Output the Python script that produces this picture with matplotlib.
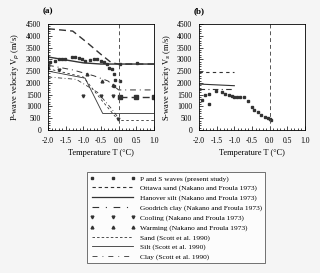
import matplotlib
matplotlib.use('Agg')
import matplotlib.pyplot as plt
from matplotlib.ticker import MultipleLocator
from matplotlib.lines import Line2D

plt.rcParams['font.family'] = ['Liberation Serif', 'DejaVu Serif']

# P-wave, present study
p_T = [-2.02, -2.0, -1.94, -1.8, -1.7, -1.61, -1.51, -1.32, -1.23, -1.13, -1.04, -0.94, -0.8,
       -0.71, -0.61, -0.51, -0.42, -0.32, -0.28, -0.18, -0.13, -0.09, -0.13, 0.04, 0.04, 0.53]
p_V = [3115, 2650, 2900, 2930, 3000, 3030, 3000, 3115, 3100, 3070, 3030, 2930, 2960,
       3000, 3000, 2940, 2890, 2790, 2640, 2570, 2360, 2140, 1860, 2070, 2810, 2860]
p_unf_T = [0.03, 0.5, 1.0]
p_unf_V = [1420, 1420, 1420]

# Nakano and Froula 1973, P-wave
ottawa_T = [-2.0, -1.3, -0.9, -0.5, -0.2, 0.0, 1.0]
ottawa_V = [4300, 4200, 3720, 3210, 2850, 2800, 2800]
hanover_T = [-2.0, -1.0, -0.5, 1.0]
hanover_V = [3100, 2850, 2800, 2800]
goodrich_T = [-2.0, -1.3, -0.7, -0.3, 0.0, 1.0]
goodrich_V = [2750, 2550, 2300, 2080, 1700, 1700]
cool_T = [-1.7, -1.0, -0.5, -0.17, -0.03]
cool_V = [2550, 1430, 1430, 1430, 450]
warm_T = [-0.9, -0.46, -0.17]
warm_V = [2360, 2060, 1890]

# Scott et al. 1990, P-wave
sand_T = [-2.0, -1.0, -0.5, 0.0, 1.0]
sand_V = [2600, 2250, 1300, 400, 400]
silt_T = [-2.0, -0.95, -0.45, 1.0]
silt_V = [2500, 2200, 700, 700]
clay_T = [-2.0, -1.2, -0.6, -0.2, 0.0]
clay_V = [2250, 2150, 1600, 900, 500]

# S-wave, present study
s_T = [-1.92, -1.83, -1.71, -1.71, -1.51, -1.35, -1.26, -1.16, -1.07, -1.02, -0.92, -0.83,
       -0.73, -0.62, -0.51, -0.43, -0.33, -0.24, -0.14, -0.05, 0.0, 0.05]
s_V = [1290, 1470, 1540, 1110, 1670, 1600, 1530, 1500, 1460, 1390, 1400, 1400,
       1390, 1210, 970, 860, 760, 640, 570, 500, 460, 430]
# Scott et al. 1990, S-wave
s_sand_T = [-2.0, -1.0]
s_sand_V = [2480, 2480]
s_silt_T = [-2.0, -1.0]
s_silt_V = [1950, 1880]
s_clay_T = [-2.0, -1.0]
s_clay_V = [1740, 1740]

fig = plt.figure(figsize=(3.2, 2.73), dpi=100, facecolor='#f5f5f5')
ax1 = fig.add_axes([0.15, 0.524, 0.331, 0.388])
ax2 = fig.add_axes([0.622, 0.524, 0.331, 0.388])

k = '#333333'
ms = dict(color=k, linestyle='none', markersize=2)

# panel a
ax1.plot(ottawa_T, ottawa_V, color=k, lw=1.0, dashes=(5, 3))
ax1.plot(hanover_T, hanover_V, color=k, lw=1.0)
ax1.plot(goodrich_T, goodrich_V, color=k, lw=0.7, dashes=(6, 4, 1, 4))
ax1.plot(sand_T, sand_V, color=k, lw=0.6, dashes=(3, 3))
ax1.plot(silt_T, silt_V, color=k, lw=0.6)
ax1.plot(clay_T, clay_V, color=k, lw=0.6, dashes=(5, 3, 1, 3))
ax1.plot(p_T, p_V, marker='s', **ms)
ax1.plot(p_unf_T, p_unf_V, color=k, lw=1.0, dashes=(5, 3), marker='s', markersize=2.5)
ax1.plot(cool_T, cool_V, marker='v', **ms)
ax1.plot(warm_T, warm_V, marker='^', **ms)

# panel b
ax2.plot(s_sand_T, s_sand_V, color=k, lw=0.8, dashes=(3, 3))
ax2.plot(s_silt_T, s_silt_V, color=k, lw=0.8)
ax2.plot(s_clay_T, s_clay_V, color=k, lw=0.8, dashes=(5, 3, 1, 3))
ax2.plot(s_T, s_V, marker='s', **ms)

for ax, lab, tag in [(ax1, 'P-wave velocity V$_p$ (m/s)', '(a)'),
                     (ax2, 'S-wave velocity V$_s$ (m/s)', '(b)')]:
    ax.axvline(0, color='#555555', lw=0.7, dashes=(4, 3))
    ax.set_xlim(-2.0, 1.0)
    ax.set_ylim(0, 4500)
    ax.set_facecolor('white')
    ax.xaxis.set_major_locator(MultipleLocator(0.5))
    ax.xaxis.set_minor_locator(MultipleLocator(0.1))
    ax.yaxis.set_major_locator(MultipleLocator(500))
    ax.yaxis.set_minor_locator(MultipleLocator(100))
    ax.xaxis.set_major_formatter(plt.FuncFormatter(lambda v, p: '%.1f' % v))
    ax.tick_params(which='both', direction='in', labelsize=5.5, width=0.5)
    ax.tick_params(axis='x', which='major', length=3, pad=5)
    ax.tick_params(axis='y', which='major', length=3, pad=5)
    ax.tick_params(which='minor', length=1.5)
    for s in ax.spines.values():
        s.set_linewidth(0.6)
    ax.set_xlabel('Temperature T (°C)', fontsize=6, labelpad=3)
    ax.set_ylabel(lab, fontsize=6, labelpad=3)
    ax.text(-0.05, 1.08, tag, transform=ax.transAxes, fontsize=6.5,
            fontweight='bold', ha='left', va='bottom')

handles = [
    Line2D([], [], marker='s', markersize=2, color=k, linestyle='none'),
    Line2D([], [], color=k, lw=0.8, dashes=(3, 2.5)),
    Line2D([], [], color=k, lw=0.9),
    Line2D([], [], color=k, lw=0.8, dashes=(6, 6, 1, 6)),
    Line2D([], [], marker='v', markersize=2, color=k, linestyle='none'),
    Line2D([], [], marker='^', markersize=2, color=k, linestyle='none'),
    Line2D([], [], color=k, lw=0.6, dashes=(3, 2.5)),
    Line2D([], [], color=k, lw=0.6),
    Line2D([], [], color=k, lw=0.6, dashes=(6, 6, 1, 6)),
]
labels = [
    'P and S waves (present study)',
    'Ottawa sand (Nakano and Froula 1973)',
    'Hanover silt (Nakano and Froula 1973)',
    'Goodrich clay (Nakano and Froula 1973)',
    'Cooling (Nakano and Froula 1973)',
    'Warming (Nakano and Froula 1973)',
    'Sand (Scott et al. 1990)',
    'Silt (Scott et al. 1990)',
    'Clay (Scott et al. 1990)',
]
leg = fig.legend(handles, labels, loc='upper left', bbox_to_anchor=(0.26, 0.383),
                 fontsize=5.3, numpoints=3, handlelength=6.2, handletextpad=0.6,
                 labelspacing=0.45, borderpad=0.4, frameon=True, fancybox=False,
                 edgecolor=k)
leg.get_frame().set_linewidth(0.6)

fig.savefig('out.png', dpi=100, facecolor=fig.get_facecolor())
